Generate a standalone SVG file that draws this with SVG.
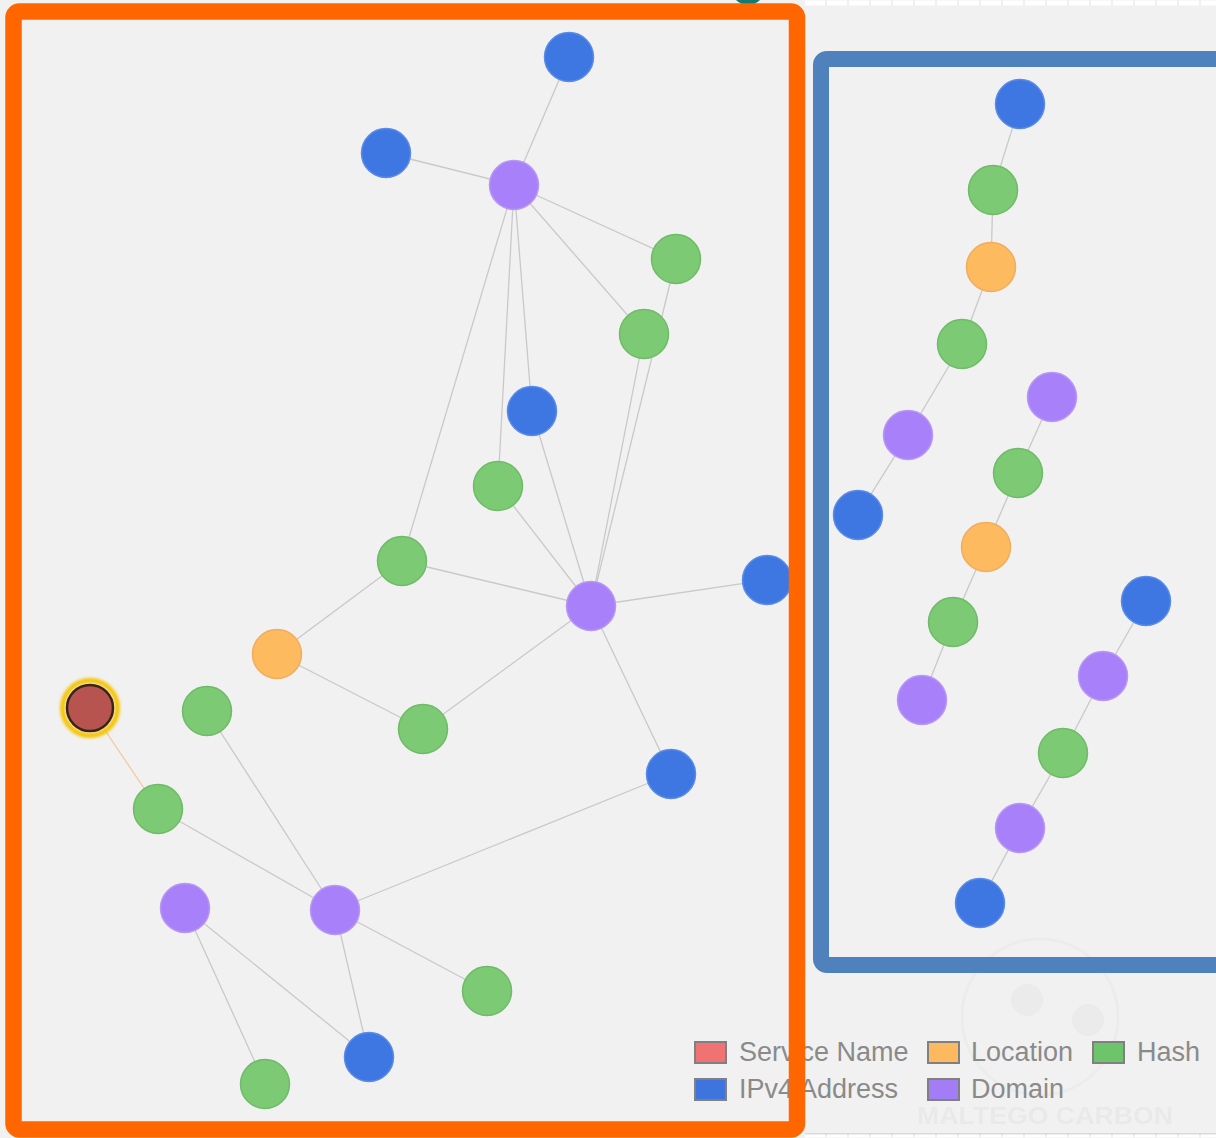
<svg xmlns="http://www.w3.org/2000/svg" width="1216" height="1138" viewBox="0 0 1216 1138">
<defs>
<style>
.e{stroke:#c9c9c9;stroke-width:1.3;fill:none}
.b{fill:#3e76e2;stroke:#5a8be8;stroke-width:1.5}
.g{fill:#7dca74;stroke:#6fbb68;stroke-width:1.5}
.p{fill:#a880fa;stroke:#b796f5;stroke-width:1.5}
.o{fill:#fdba5f;stroke:#f0ad60;stroke-width:1.5}
.lt{font-family:"Liberation Sans",Arial,sans-serif;font-size:27px;fill:#8a8a8a}
.sw{stroke:#808080;stroke-width:2}
</style>
<filter id="glow" x="-50%" y="-50%" width="200%" height="200%"><feGaussianBlur stdDeviation="1.5"/></filter>
</defs>
<rect x="0" y="0" width="1216" height="1138" fill="#f1f1f1"/>
<line x1="805" y1="3" x2="1216" y2="3" stroke="#ffffff" stroke-width="5" stroke-dasharray="20 2"/>
<line x1="805" y1="1134" x2="1216" y2="1134" stroke="#dadada" stroke-width="2"/>
<line x1="805" y1="1136" x2="1216" y2="1136" stroke="#ffffff" stroke-width="3" stroke-dasharray="20 2"/>
<circle cx="748" cy="-12" r="17" fill="#137a72"/>
<g id="watermark" opacity="0.35">
<circle cx="1040" cy="1017" r="78" fill="none" stroke="#e4e4e4" stroke-width="3"/>
<circle cx="1027" cy="1000" r="16" fill="#e0e0e0"/>
<circle cx="1088" cy="1020" r="16" fill="#e0e0e0"/>
<text x="917" y="1124" font-family="Liberation Sans,Arial,sans-serif" font-weight="bold" font-size="24" fill="#dcdcdc" textLength="256" lengthAdjust="spacingAndGlyphs">MALTEGO CARBON</text>
</g>
<g id="connectors">
<line class="e" x1="569" y1="57" x2="514" y2="185"/>
<line class="e" x1="386" y1="153" x2="514" y2="185"/>
<line class="e" x1="514" y1="185" x2="676" y2="259"/>
<line class="e" x1="514" y1="185" x2="644" y2="334"/>
<line class="e" x1="514" y1="185" x2="402" y2="561"/>
<line class="e" x1="514" y1="185" x2="498" y2="486"/>
<line class="e" x1="514" y1="185" x2="532" y2="411"/>
<line class="e" x1="676" y1="259" x2="591" y2="606"/>
<line class="e" x1="644" y1="334" x2="591" y2="606"/>
<line class="e" x1="532" y1="411" x2="591" y2="606"/>
<line class="e" x1="498" y1="486" x2="591" y2="606"/>
<line class="e" x1="402" y1="561" x2="591" y2="606"/>
<line class="e" x1="591" y1="606" x2="767" y2="580"/>
<line class="e" x1="591" y1="606" x2="671" y2="774"/>
<line class="e" x1="591" y1="606" x2="423" y2="729"/>
<line class="e" x1="402" y1="561" x2="277" y2="654"/>
<line class="e" x1="277" y1="654" x2="423" y2="729"/>
<line x1="90" y1="708" x2="158" y2="809" stroke="#f3c9a3" stroke-width="1.3"/>
<line class="e" x1="207" y1="711" x2="335" y2="910"/>
<line class="e" x1="158" y1="809" x2="335" y2="910"/>
<line class="e" x1="335" y1="910" x2="671" y2="774"/>
<line class="e" x1="335" y1="910" x2="487" y2="991"/>
<line class="e" x1="335" y1="910" x2="369" y2="1057"/>
<line class="e" x1="185" y1="908" x2="369" y2="1057"/>
<line class="e" x1="185" y1="908" x2="265" y2="1084"/>
<line class="e" x1="1020" y1="104" x2="993" y2="190"/>
<line class="e" x1="993" y1="190" x2="991" y2="267"/>
<line class="e" x1="991" y1="267" x2="962" y2="344"/>
<line class="e" x1="962" y1="344" x2="908" y2="435"/>
<line class="e" x1="908" y1="435" x2="858" y2="515"/>
<line class="e" x1="1052" y1="397" x2="1018" y2="473"/>
<line class="e" x1="1018" y1="473" x2="986" y2="547"/>
<line class="e" x1="986" y1="547" x2="953" y2="622"/>
<line class="e" x1="953" y1="622" x2="922" y2="700"/>
<line class="e" x1="1146" y1="601" x2="1103" y2="676"/>
<line class="e" x1="1103" y1="676" x2="1063" y2="753"/>
<line class="e" x1="1063" y1="753" x2="1020" y2="828"/>
<line class="e" x1="1020" y1="828" x2="980" y2="903"/>
</g>
<g id="n-b1"><circle class="b" cx="569" cy="57" r="24.5"/></g>
<g id="n-b2"><circle class="b" cx="386" cy="153" r="24.5"/></g>
<g id="n-d1"><circle class="p" cx="514" cy="185" r="24.5"/></g>
<g id="n-g1"><circle class="g" cx="676" cy="259" r="24.5"/></g>
<g id="n-g2"><circle class="g" cx="644" cy="334" r="24.5"/></g>
<g id="n-b3"><circle class="b" cx="532" cy="411" r="24.5"/></g>
<g id="n-g3"><circle class="g" cx="498" cy="486" r="24.5"/></g>
<g id="n-g4"><circle class="g" cx="402" cy="561" r="24.5"/></g>
<g id="n-d2"><circle class="p" cx="591" cy="606" r="24.5"/></g>
<g id="n-b4"><circle class="b" cx="767" cy="580" r="24.5"/></g>
<g id="n-l1"><circle class="o" cx="277" cy="654" r="24.5"/></g>
<g id="n-red">
<circle cx="90" cy="708" r="27.5" fill="none" stroke="#f5c400" stroke-width="5" filter="url(#glow)"/>
<circle cx="90" cy="708" r="23" fill="#b85450" stroke="#3b2416" stroke-width="2.5"/>
</g>
<g id="n-g5"><circle class="g" cx="207" cy="711" r="24.5"/></g>
<g id="n-g6"><circle class="g" cx="423" cy="729" r="24.5"/></g>
<g id="n-b5"><circle class="b" cx="671" cy="774" r="24.5"/></g>
<g id="n-g7"><circle class="g" cx="158" cy="809" r="24.5"/></g>
<g id="n-d3"><circle class="p" cx="185" cy="908" r="24.5"/></g>
<g id="n-d4"><circle class="p" cx="335" cy="910" r="24.5"/></g>
<g id="n-g8"><circle class="g" cx="487" cy="991" r="24.5"/></g>
<g id="n-b6"><circle class="b" cx="369" cy="1057" r="24.5"/></g>
<g id="n-g9"><circle class="g" cx="265" cy="1084" r="24.5"/></g>
<g id="n-b7"><circle class="b" cx="1020" cy="104" r="24.5"/></g>
<g id="n-g10"><circle class="g" cx="993" cy="190" r="24.5"/></g>
<g id="n-l2"><circle class="o" cx="991" cy="267" r="24.5"/></g>
<g id="n-g11"><circle class="g" cx="962" cy="344" r="24.5"/></g>
<g id="n-d5"><circle class="p" cx="908" cy="435" r="24.5"/></g>
<g id="n-b8"><circle class="b" cx="858" cy="515" r="24.5"/></g>
<g id="n-d6"><circle class="p" cx="1052" cy="397" r="24.5"/></g>
<g id="n-g12"><circle class="g" cx="1018" cy="473" r="24.5"/></g>
<g id="n-l3"><circle class="o" cx="986" cy="547" r="24.5"/></g>
<g id="n-g13"><circle class="g" cx="953" cy="622" r="24.5"/></g>
<g id="n-d7"><circle class="p" cx="922" cy="700" r="24.5"/></g>
<g id="n-b9"><circle class="b" cx="1146" cy="601" r="24.5"/></g>
<g id="n-d8"><circle class="p" cx="1103" cy="676" r="24.5"/></g>
<g id="n-g14"><circle class="g" cx="1063" cy="753" r="24.5"/></g>
<g id="n-d9"><circle class="p" cx="1020" cy="828" r="24.5"/></g>
<g id="n-b10"><circle class="b" cx="980" cy="903" r="24.5"/></g>
<g id="legend">
<rect class="sw" x="695" y="1042" width="31" height="21" fill="#f07272"/>
<text class="lt" x="739" y="1061">Service Name</text>
<rect class="sw" x="928" y="1042" width="31" height="21" fill="#fdb95e"/>
<text class="lt" x="971" y="1061">Location</text>
<rect class="sw" x="1093" y="1042" width="31" height="21" fill="#6ec46a"/>
<text class="lt" x="1137" y="1061">Hash</text>
<rect class="sw" x="695" y="1079" width="31" height="21" fill="#3e74de"/>
<text class="lt" x="739" y="1098">IPv4 Address</text>
<rect class="sw" x="928" y="1079" width="31" height="21" fill="#a37df6"/>
<text class="lt" x="971" y="1098">Domain</text>
</g>
<g id="frames">
<rect x="13.5" y="11.5" width="783.5" height="1118" rx="6" fill="none" stroke="#ff6600" stroke-width="16.5"/>
<rect x="821" y="59" width="500" height="906" rx="6" fill="none" stroke="#4f81bd" stroke-width="16"/>
</g>
</svg>
